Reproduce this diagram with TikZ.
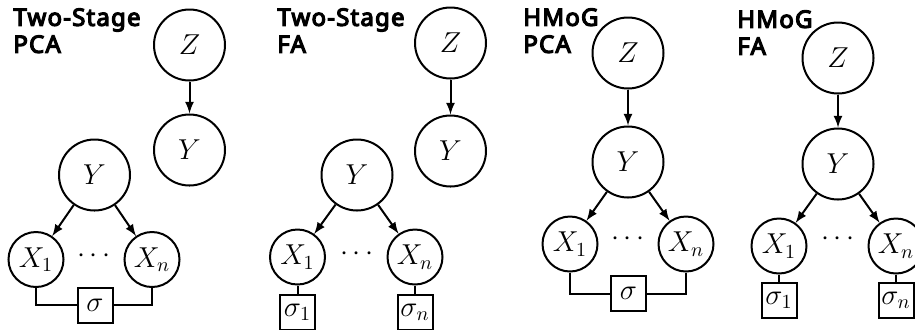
\documentclass[tikz,border=0pt]{standalone}
\usepackage{fontspec}
\newfontfamily\titlefont{Noto Sans}[AutoFakeBold=5,LetterSpace=5]
\tikzset{
  >=latex,
  latent/.style = {circle, draw, line width=1pt, minimum size=35.5pt, inner sep=0pt},
  observed/.style = {circle, draw, line width=1pt, minimum size=27.5pt, inner sep=0pt},
  noise/.style = {rectangle, draw, line width=1pt, minimum size=17.5pt, inner sep=0pt},
  edge/.style = {->, line width=1pt},
  tie/.style = {line width=1pt},
  paneltitle/.style = {
    anchor=north west, inner sep=0pt, align=left,
    font=\titlefont\bfseries\fontsize{12}{13.5}\selectfont
  }
}

\begin{document}
\begin{tikzpicture}[x=0.5pt,y=-0.5pt,font=\fontsize{14.4}{17}\selectfont]
  \useasboundingbox (0,0) rectangle (915,329);
  \clip (0,0) rectangle (915,329);
  % Two-Stage PCA
  \node[paneltitle] (t1) at (13,8) {Two-Stage\\PCA};
  \node[latent] (z1) at (189.5,45) {$Z$};
  \node[latent] (ya1) at (189.5,150) {$Y$};
  \node[latent] (yb1) at (94.5,175) {$Y$};
  \node[observed] (x1a) at (36,259.5) {$X_1$};
  \node[observed] (x1n) at (152,259.5) {$X_n$};
  \node (d1) at (94,256) {$\cdots$};
  \node[noise] (s1) at (95,305) {$\sigma$};
  \draw[edge] (z1) -- (ya1);
  \draw[edge] (yb1) -- (x1a);
  \draw[edge] (yb1) -- (x1n);
  \draw[tie] (x1a) |- (s1);
  \draw[tie] (x1n) |- (s1);
  % Two-Stage FA
  \node[paneltitle] (t2) at (277,8) {Two-Stage\\FA};
  \node[latent] (z2) at (450.5,43) {$Z$};
  \node[latent] (ya2) at (450.5,151) {$Y$};
  \node[latent] (yb2) at (357,175) {$Y$};
  \node[observed] (x2a) at (297.5,257) {$X_1$};
  \node[observed] (x2n) at (415,257) {$X_n$};
  \node (d2) at (357,254) {$\cdots$};
  \node[noise] (s2a) at (297.5,312.5) {$\sigma_1$};
  \node[noise] (s2n) at (415,312.5) {$\sigma_n$};
  \draw[edge] (z2) -- (ya2);
  \draw[edge] (yb2) -- (x2a);
  \draw[edge] (yb2) -- (x2n);
  \draw[tie] (x2a) -- (s2a);
  \draw[tie] (x2n) -- (s2n);
  % HMoG PCA
  \node[paneltitle] (t3) at (523,8) {HMoG\\PCA};
  \node[latent] (z3) at (628,53) {$Z$};
  \node[latent] (y3) at (628,162) {$Y$};
  \node[observed] (x3a) at (570,244) {$X_1$};
  \node[observed] (x3n) at (686,244) {$X_n$};
  \node (d3) at (628,239) {$\cdots$};
  \node[noise] (s3) at (628.5,293.5) {$\sigma$};
  \draw[edge] (z3) -- (y3);
  \draw[edge] (y3) -- (x3a);
  \draw[edge] (y3) -- (x3n);
  \draw[tie] (x3a) |- (s3);
  \draw[tie] (x3n) |- (s3);
  % HMoG FA
  \node[paneltitle] (t4) at (737,10) {HMoG\\FA};
  \node[latent] (z4) at (838,58) {$Z$};
  \node[latent] (y4) at (838,164) {$Y$};
  \node[observed] (x4a) at (779,246) {$X_1$};
  \node[observed] (x4n) at (896,246) {$X_n$};
  \node (d4) at (838,239) {$\cdots$};
  \node[noise] (s4a) at (779,300) {$\sigma_1$};
  \node[noise] (s4n) at (896,300) {$\sigma_n$};
  \draw[edge] (z4) -- (y4);
  \draw[edge] (y4) -- (x4a);
  \draw[edge] (y4) -- (x4n);
  \draw[tie] (x4a) -- (s4a);
  \draw[tie] (x4n) -- (s4n);
\end{tikzpicture}
\end{document}
